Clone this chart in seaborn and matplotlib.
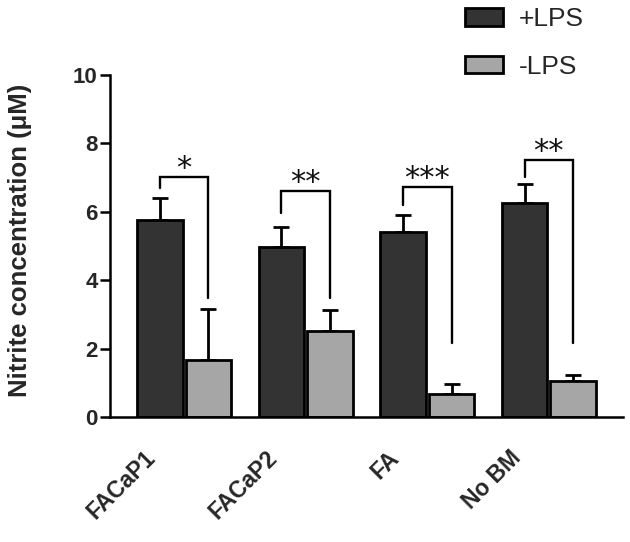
import matplotlib
matplotlib.use("Agg")
import matplotlib.pyplot as plt
import matplotlib.transforms as mtransforms
from matplotlib.patches import Patch
import seaborn as sns
import numpy as np
import pandas as pd

# ---- data ----
groups = ["FACaP1", "FACaP2", "FA", "No BM"]
conditions = ["+LPS", "-LPS"]
plus_lps = [5.75, 4.97, 5.40, 6.25]
plus_lps_err = [0.65, 0.58, 0.52, 0.55]
minus_lps = [1.67, 2.52, 0.66, 1.04]
minus_lps_err = [1.50, 0.60, 0.30, 0.18]
stars = ["*", "**", "***", "**"]
bracket_top = [7.03, 6.61, 6.73, 7.51]
bracket_left_start = [6.70, 5.97, 6.20, 7.03]
bracket_right_end = [3.48, 3.48, 2.16, 2.16]
yticks = [0, 2, 4, 6, 8, 10]

colors = {"+LPS": "#333333", "-LPS": "#a6a6a6"}

df = pd.DataFrame({
    "group": groups * 2,
    "condition": ["+LPS"] * 4 + ["-LPS"] * 4,
    "value": plus_lps + minus_lps,
})

sns.set_style("ticks")
plt.rcParams["font.family"] = ["Liberation Sans", "DejaVu Sans"]

fig = plt.figure(figsize=(6.3, 5.42), dpi=100)
ax = fig.add_axes([110 / 630, 1 - 417 / 542, (623 - 110) / 630, (417 - 75) / 542])

sns.barplot(data=df, x="group", y="value", hue="condition", order=groups,
            hue_order=conditions, palette=colors, errorbar=None, width=0.8,
            gap=0.06, edgecolor="black", linewidth=2, ax=ax, legend=False,
            zorder=2)

# error bars (upward only) placed at the seaborn bar positions
bars = sorted([p for p in ax.patches if p.get_height() > 0], key=lambda p: p.get_x())
centers = [p.get_x() + p.get_width() / 2 for p in bars]
vals, errs = [], []
for i in range(len(groups)):
    vals += [plus_lps[i], minus_lps[i]]
    errs += [plus_lps_err[i], minus_lps_err[i]]
ax.errorbar(centers, vals, yerr=[np.zeros(len(errs)), errs], fmt="none",
            ecolor="black", elinewidth=2, capsize=6, capthick=2, zorder=1)

# significance brackets
for i in range(len(groups)):
    xl = centers[2 * i]
    xr = centers[2 * i + 1]
    ax.plot([xl, xl, xr, xr],
            [bracket_left_start[i], bracket_top[i], bracket_top[i], bracket_right_end[i]],
            color="black", lw=1.7, solid_joinstyle="miter", clip_on=False, zorder=3)
    ax.text((xl + xr) / 2, bracket_top[i], stars[i], ha="center", va="baseline",
            fontsize=22, family="DejaVu Sans", color="#111111")

ax.set_xlim(-0.61, 3.61)
ax.set_ylim(0, 10)
ax.set_yticks(yticks)
ax.set_yticklabels([str(t) for t in yticks], fontsize=16, fontweight="bold")
ax.tick_params(axis="y", length=7, width=1.8, pad=2, color="black")
ax.tick_params(axis="x", length=0, pad=6)
ax.set_xlabel("")
ax.set_ylabel("Nitrite concentration (μM)", fontsize=18.5, fontweight="bold")
ax.yaxis.set_label_coords(-0.153, 0.515)
for s in ["top", "right"]:
    ax.spines[s].set_visible(False)
for s in ["left", "bottom"]:
    ax.spines[s].set_linewidth(1.8)
    ax.spines[s].set_color("black")

ax.set_xticks(range(len(groups)))
ax.set_xticklabels(groups, rotation=45, ha="right", va="top",
                   rotation_mode="anchor", fontsize=16.5, fontweight="bold")
offset = mtransforms.ScaledTranslation(-40 / 100, -21 / 100, fig.dpi_scale_trans)
for lab in ax.get_xticklabels():
    lab.set_transform(lab.get_transform() + offset)

# legend
handles = [Patch(facecolor=colors[c], edgecolor="black", linewidth=2) for c in conditions]
fig.legend(handles, conditions, loc="upper left",
           bbox_to_anchor=(465 / 630, 1 - 7 / 542), frameon=False, fontsize=19,
           handlelength=1.44, handleheight=0.65, handletextpad=0.6,
           labelspacing=0.9, borderpad=0, borderaxespad=0)

fig.savefig("out.png", dpi=100)
